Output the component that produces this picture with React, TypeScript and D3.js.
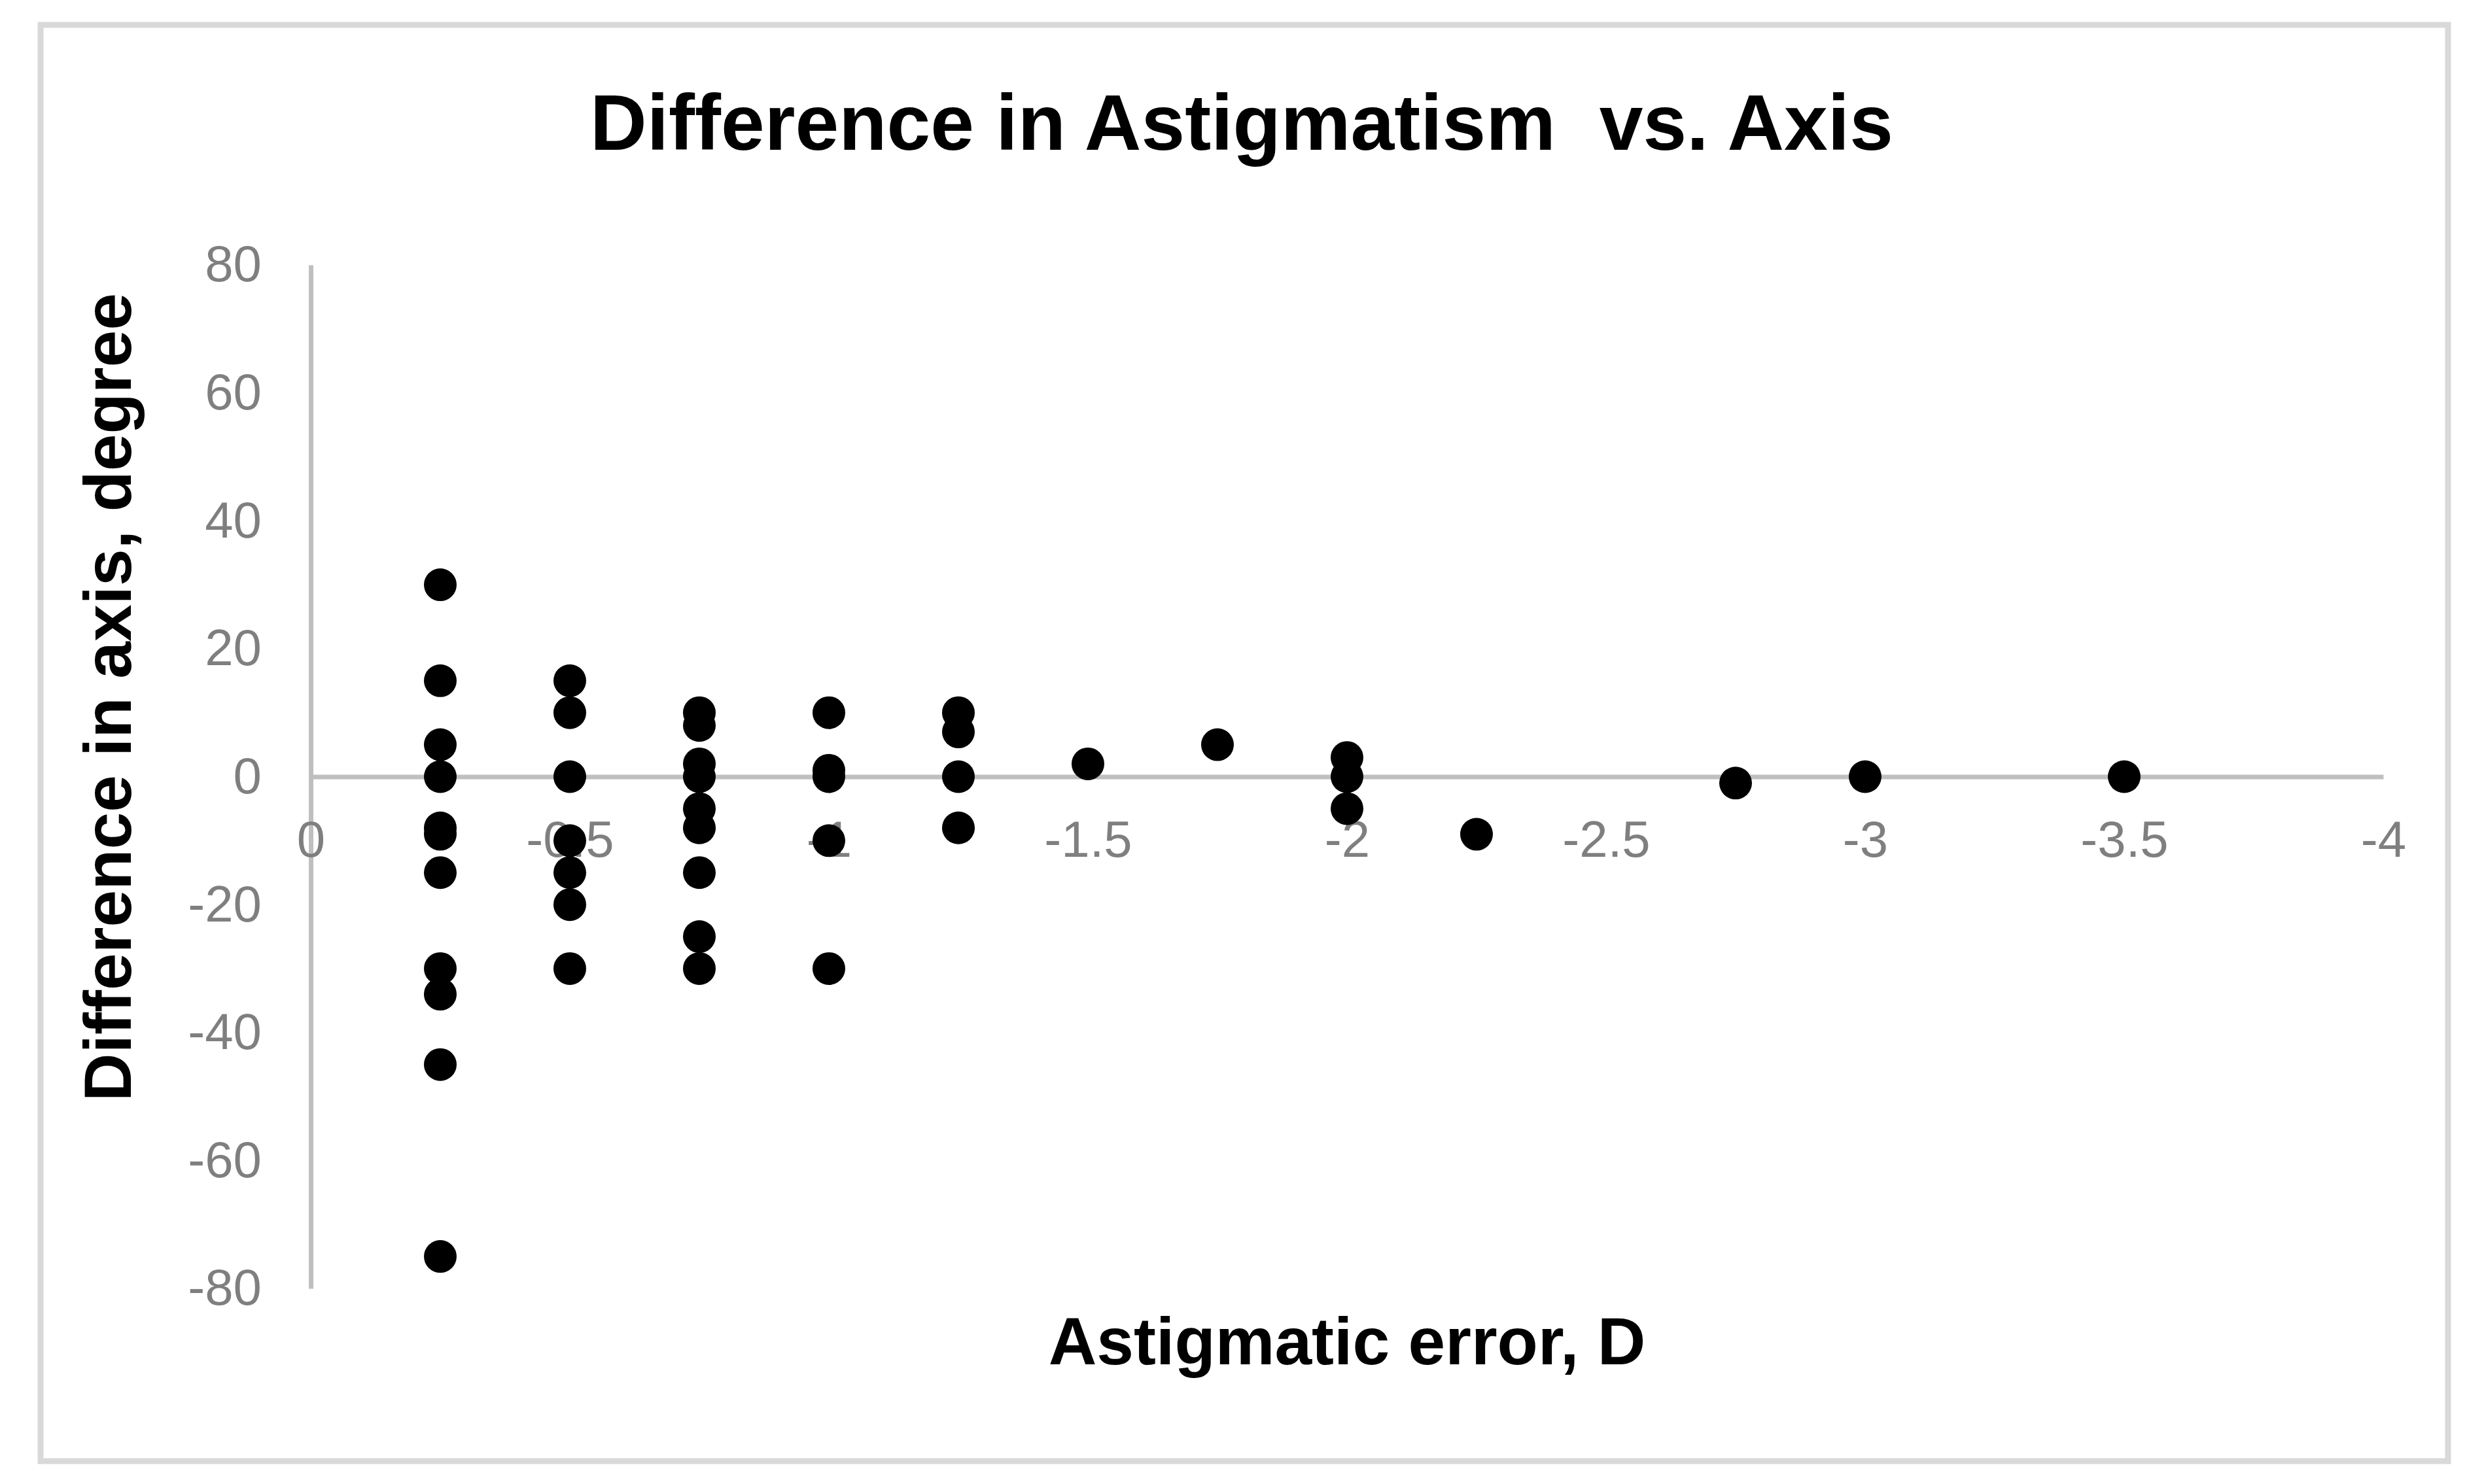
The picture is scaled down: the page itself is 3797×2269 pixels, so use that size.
import * as d3 from 'd3';
import React, { useRef, useEffect } from 'react';

const chartTitle = 'Difference in Astigmatism  vs. Axis';
const xTitle = 'Astigmatic error, D';
const yTitle = 'Difference in axis, degree';

// one entry per eye: astigmatic error (D) and the matching axis difference (deg)
const astigError = [
  -0.25, -0.25, -0.25, -0.25, -0.25, -0.25, -0.25, -0.25, -0.25, -0.25, -0.25,
  -0.5, -0.5, -0.5, -0.5, -0.5, -0.5, -0.5,
  -0.75, -0.75, -0.75, -0.75, -0.75, -0.75, -0.75, -0.75, -0.75,
  -1, -1, -1, -1, -1,
  -1.25, -1.25, -1.25, -1.25,
  -1.5,
  -1.75,
  -2, -2, -2,
  -2.25,
  -2.75,
  -3,
  -3.5,
];
const axisDiff = [
  30, 15, 5, 0, -8, -9, -15, -30, -34, -45, -75,
  15, 10, 0, -10, -15, -20, -30,
  10, 8, 2, 0, -5, -8, -15, -25, -30,
  10, 1, 0, -10, -30,
  10, 7, 0, -8,
  2,
  5,
  3, 0, -5,
  -9,
  -1,
  0,
  0,
];

const xTicks = [0, -0.5, -1, -1.5, -2, -2.5, -3, -3.5, -4];
const yTicks = [80, 60, 40, 20, 0, -20, -40, -60, -80];

const FONT = '"Liberation Sans", Arial, sans-serif';

const App = () => {
  const ref = useRef(null);

  const W = 3797, H = 2269;
  const margin = { top: 405, right: 154, bottom: 299, left: 475 };

  useEffect(() => {
    document.body.style.margin = '0';
    document.body.style.overflow = 'hidden';
    draw();
  });

  const draw = () => {
    const svg = d3.select(ref.current);
    svg.selectAll('*').remove();

    svg.append('rect')
      .attr('x', 0).attr('y', 0).attr('width', W).attr('height', H)
      .attr('fill', '#ffffff');

    // chart area border
    svg.append('rect')
      .attr('x', 62).attr('y', 38)
      .attr('width', 3680).attr('height', 2196)
      .attr('fill', '#ffffff')
      .attr('stroke', '#d9d9d9')
      .attr('stroke-width', 9);

    const x = d3.scaleLinear()
      .domain([0, -4])
      .range([margin.left, W - margin.right]);
    const y = d3.scaleLinear()
      .domain([-80, 80])
      .range([H - margin.bottom, margin.top]);

    // Y axis
    const gy = svg.append('g')
      .attr('transform', 'translate(' + x(0) + ',0)')
      .call(d3.axisLeft(y).tickValues(yTicks).tickSize(0).tickSizeOuter(0).tickPadding(75)
        .tickFormat((d) => String(d)));
    gy.select('.domain').attr('stroke', '#bfbfbf').attr('stroke-width', 7);
    gy.selectAll('text')
      .attr('fill', '#7f7f7f')
      .style('font-family', FONT)
      .style('font-size', '78px');

    // X axis, crossing at y = 0
    const gx = svg.append('g')
      .attr('transform', 'translate(0,' + y(0) + ')')
      .call(d3.axisBottom(x).tickValues(xTicks).tickSize(0).tickSizeOuter(0).tickPadding(67)
        .tickFormat((d) => String(d)));
    gx.select('.domain').attr('stroke', '#bfbfbf').attr('stroke-width', 7);
    gx.selectAll('text')
      .attr('fill', '#7f7f7f')
      .style('font-family', FONT)
      .style('font-size', '78px');

    // points
    svg.append('g')
      .selectAll('circle')
      .data(astigError.map((d, i) => ({ err: d, diff: axisDiff[i] })))
      .join('circle')
      .attr('cx', (d) => x(d.err))
      .attr('cy', (d) => y(d.diff))
      .attr('r', 25)
      .attr('fill', '#000000');

    // titles
    svg.append('text')
      .attr('x', 1898).attr('y', 229)
      .attr('text-anchor', 'middle')
      .style('white-space', 'pre')
      .style('font-family', FONT)
      .style('font-weight', 'bold')
      .style('font-size', '120px')
      .text(chartTitle);

    svg.append('text')
      .attr('x', (x(0) + x(-4)) / 2).attr('y', 2086)
      .attr('text-anchor', 'middle')
      .style('font-family', FONT)
      .style('font-weight', 'bold')
      .style('font-size', '102px')
      .text(xTitle);

    svg.append('text')
      .attr('transform', 'translate(200,1066) rotate(-90)')
      .attr('text-anchor', 'middle')
      .style('font-family', FONT)
      .style('font-weight', 'bold')
      .style('font-size', '102px')
      .text(yTitle);
  };

  return (
    <svg ref={ref} width={W} height={H} style={{ display: 'block' }}></svg>
  );
};

export default App;
